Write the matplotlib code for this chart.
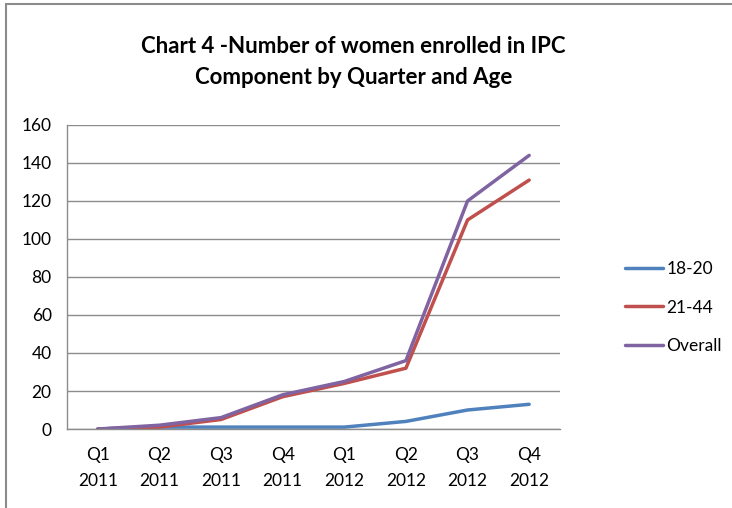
#!/usr/bin/env python3
import matplotlib
matplotlib.use("Agg")
import matplotlib.pyplot as plt
from matplotlib.patches import Rectangle

# Data
quarters = ["Q1\n2011", "Q2\n2011", "Q3\n2011", "Q4\n2011",
            "Q1\n2012", "Q2\n2012", "Q3\n2012", "Q4\n2012"]
age_18_20 = [0, 1, 1, 1, 1, 4, 10, 13]
age_21_44 = [0, 1, 5, 17, 24, 32, 110, 131]
overall = [0, 2, 6, 18, 25, 36, 120, 144]
y_ticks = [0, 20, 40, 60, 80, 100, 120, 140, 160]

plt.rcParams['font.family'] = ['Lato', 'DejaVu Sans']

fig = plt.figure(figsize=(7.32, 5.08), dpi=100)
ax = fig.add_axes([0.0915, 0.1555, 0.6735, 0.5985])

# outer chart frame
fig.patches.append(Rectangle((6 / 732, -0.05), 1.2, 1.0 - 4 / 508 + 0.05,
                             transform=fig.transFigure, fill=False,
                             edgecolor='#8c8c8c', linewidth=1.5))

x = list(range(len(quarters)))
ax.plot(x, age_18_20, color='#4F81BD', lw=2.5, label='18-20', solid_capstyle='round')
ax.plot(x, age_21_44, color='#C0504D', lw=2.5, label='21-44', solid_capstyle='round')
ax.plot(x, overall, color='#8064A2', lw=2.5, label='Overall', solid_capstyle='round')

ax.set_xlim(-0.5, len(quarters) - 0.5)
ax.set_ylim(0, 160)
ax.set_yticks(y_ticks)
ax.set_xticks(x)
ax.set_xticklabels(quarters, linespacing=1.75)
ax.tick_params(length=0, labelsize=12.5, colors='#000000')
ax.tick_params(axis='x', pad=13)
ax.tick_params(axis='y', pad=11)

ax.grid(axis='y', color='#8c8c8c', lw=1.0)
ax.set_axisbelow(True)
for side in ['top', 'right']:
    ax.spines[side].set_visible(False)
for side in ['left', 'bottom']:
    ax.spines[side].set_color('#8c8c8c')
    ax.spines[side].set_linewidth(1.0)

fig.text(0.483, 0.878, "Chart 4 -Number of women enrolled in IPC\nComponent by Quarter and Age",
         ha='center', va='center', fontsize=16, fontweight='bold', linespacing=1.55)

fig.legend(loc='upper left', bbox_to_anchor=(0.845, 0.5), frameon=False,
           fontsize=12.5, handlelength=2.15, handletextpad=0.2, labelspacing=1.3,
           borderaxespad=0)

fig.savefig("out.png", dpi=100)
